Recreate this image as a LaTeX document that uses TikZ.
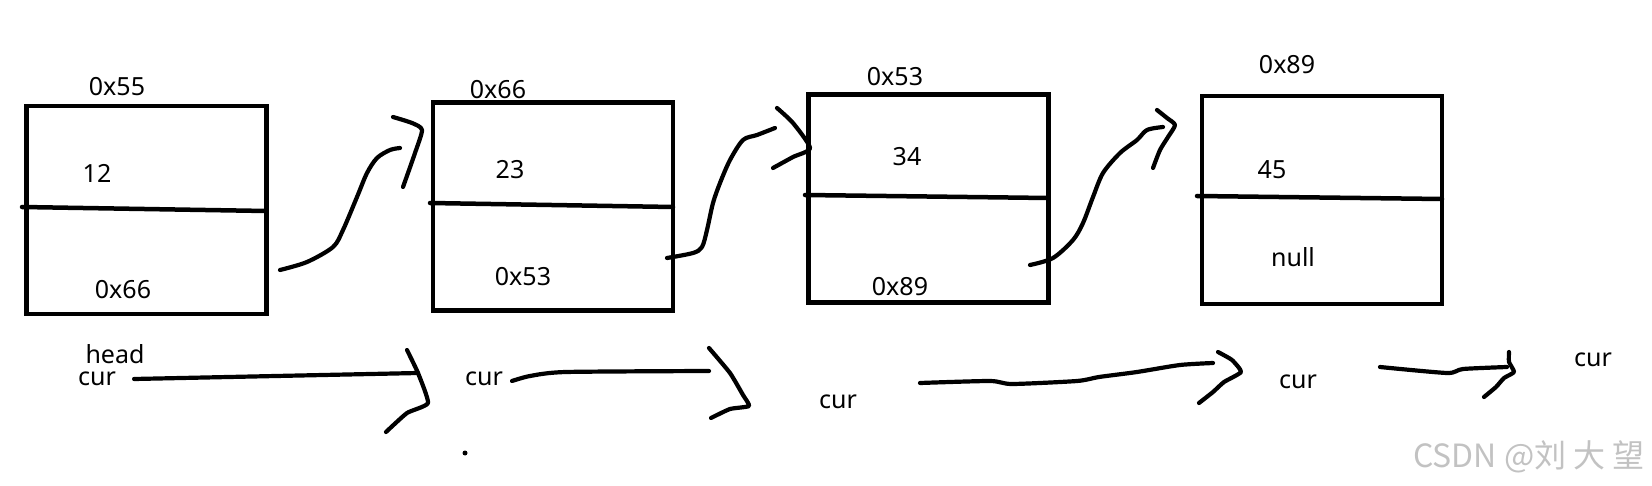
\documentclass[tikz,border=0pt]{standalone}
\usepackage{fontspec}
\setmainfont{Noto Sans}
\newfontfamily\cjkwm{Noto Sans CJK SC}
\begin{document}
\begin{tikzpicture}[x=1pt,y=-1pt,
  cell/.style={draw,line width=4.5pt,minimum width=240pt,minimum height=208pt,inner sep=0pt,outer sep=0pt},
  lbl/.style={inner sep=0pt,font=\fontsize{25}{30}\selectfont},
  pen/.style={line width=4.2pt,line cap=round,line join=round},
  sep/.style={line width=4.5pt,line cap=round}]
\useasboundingbox (0,0) rectangle (1652,486);
% boxes
\node[cell] (b1) at (146.5,210) {};
\node[cell] (b2) at (553,206.5) {};
\node[cell] (b3) at (928.5,198.5) {};
\node[cell] (b4) at (1322,200) {};
% dividers
\draw[sep] (22,207) -- (b1.east |- 0,211);
\draw[sep] (430,203) -- (b2.east |- 0,207);
\draw[sep] (805,195) -- (b3.east |- 0,198);
\draw[sep] (1197,196) -- (b4.east |- 0,199);
% labels
\node[lbl] (a1) at (117,87) {0x55};
\node[lbl] (v1) at (97,173) {12};
\node[lbl] (p1) at (123,290) {0x66};
\node[lbl] (a2) at (498,90) {0x66};
\node[lbl] (v2) at (510,170) {23};
\node[lbl] (p2) at (523,277) {0x53};
\node[lbl] (a3) at (895,77) {0x53};
\node[lbl] (v3) at (907,157) {34};
\node[lbl] (p3) at (900,287) {0x89};
\node[lbl] (a4) at (1287,65) {0x89};
\node[lbl] (v4) at (1272,170) {45};
\node[lbl] (p4) at (1293,257) {null};
% bottom labels
\node[lbl] (hd) at (115,354) {head};
\node[lbl] (k1) at (97,379) {cur};
\node[lbl] (k2) at (484,379) {cur};
\node[lbl] (k3) at (838,402) {cur};
\node[lbl] (k4) at (1298,382) {cur};
\node[lbl] (k5) at (1593,360) {cur};
% top connectors (hand drawn)
\coordinate (c1s) at (280,270); \coordinate (c1e) at (400,148);
\draw[pen] plot[smooth,tension=0.5] coordinates {(c1s) (307,262) (333,247) (343,230) (357,197) (367,173) (377,158) (390,150) (c1e)};
\draw[pen] plot[smooth,tension=0.4] coordinates {(393,117) (412,123) (422,130) (415,153) (403,187)};
\coordinate (c2s) at (667,258); \coordinate (c2e) at (775,128);
\draw[pen] plot[smooth,tension=0.5] coordinates {(c2s) (693,253) (702,247) (707,230) (713,203) (720,183) (730,160) (743,140) (757,135) (c2e)};
\draw[pen] plot[smooth,tension=0.4] coordinates {(777,108) (793,123) (810,148) (793,157) (773,168)};
\coordinate (c3s) at (1030,265); \coordinate (c3e) at (1163,127);
\draw[pen] plot[smooth,tension=0.5] coordinates {(c3s) (1053,258) (1073,240) (1083,223) (1093,197) (1103,173) (1120,153) (1137,140) (1147,130) (c3e)};
\draw[pen] plot[smooth,tension=0.4] coordinates {(1157,110) (1167,118) (1175,125) (1168,137) (1160,150) (1153,168)};
% bottom connectors
\draw[pen] (k1.east) ++(18,0) -- (418,373);
\draw[pen] plot[smooth,tension=0.3] coordinates {(407,350) (418,373) (428,403) (407,413) (386,432)};
\draw[pen] plot[smooth,tension=0.4] coordinates {(512,381) (530,376) (566,372) (709,371)};
\draw[pen] plot[smooth,tension=0.3] coordinates {(709,348) (730,373) (743,395) (749,406) (730,409) (711,418)};
\draw[pen] plot[smooth,tension=0.4] coordinates {(920,383) (990,381) (1012,384) (1077,381) (1099,377) (1137,372) (1180,365) (1213,363)};
\draw[pen] plot[smooth,tension=0.3] coordinates {(1218,352) (1232,360) (1241,372) (1224,382) (1213,392) (1199,403)};
\draw[pen] plot[smooth,tension=0.4] coordinates {(1380,367) (1447,373) (1463,369) (1507,367)};
\draw[pen] plot[smooth,tension=0.3] coordinates {(1509,352) (1509,362) (1514,372) (1504,378) (1496,387) (1484,397)};
% stray dot
\fill (465,453) circle (2.5pt);
% watermark
\node[inner sep=0pt,text=black!24,font=\cjkwm\fontsize{32}{36}\selectfont] (wm) at (1529,457) {CSDN @刘 大 望};
\end{tikzpicture}
\end{document}
